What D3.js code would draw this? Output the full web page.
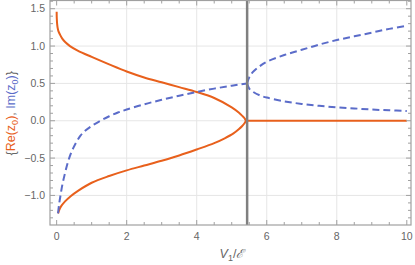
<!DOCTYPE html>
<html lang="en">
<head>
<meta charset="utf-8">
<title>Re and Im of z0</title>
<script src="https://d3js.org/d3.v7.min.js"></script>
<style>
  body { margin: 0; background: #fff; }
  svg text { font-family: "Liberation Sans", Arial, sans-serif; }
</style>
</head>
<body>
<div id="chart"></div>
<script>
// values (V1/E, value)
var reUpper = [[0.0,1.46],[0.004,1.37],[0.015,1.29],[0.03,1.24],[0.05,1.2],[0.1,1.15],[0.16,1.1],
  [0.25,1.05],[0.38,1.0],[0.6,0.94],
  [1.0,0.855],[1.5,0.755],[2.0,0.66],[2.5,0.58],[3.0,0.515],[3.5,0.45],[4.0,0.385],[4.5,0.305],
  [5.0,0.18],[5.2,0.11],[5.3,0.065],[5.37,0.03],[5.40,0]]
var reLower = [[0.04,-1.24],[0.07,-1.2],[0.12,-1.15],[0.24,-1.08],[0.4,-1.01],[0.62,-0.935],[1.0,-0.83],
  [1.5,-0.74],[2.0,-0.665],[2.5,-0.6],[3.0,-0.535],[3.5,-0.465],[4.0,-0.385],[4.5,-0.3],[4.8,-0.235],
  [5.05,-0.17],[5.2,-0.115],[5.3,-0.07],[5.37,-0.03],[5.40,0]]
var reFlat = [[5.44,0],[10,0]]
var imLower = [[0.04,-1.24],[0.07,-1.12],[0.11,-1.0],[0.17,-0.84],[0.24,-0.70],[0.3,-0.59],[0.38,-0.47],
  [0.47,-0.37],[0.57,-0.28],[0.68,-0.2],[0.8,-0.14],[1.0,-0.07],[1.25,0.0],[1.5,0.06],[1.75,0.11],
  [2.0,0.15],[2.5,0.22],[3.0,0.28],[3.5,0.335],[4.0,0.385],[4.5,0.43],[5.0,0.47],[5.44,0.5]]
var imUpperB = [[5.44,0.5],[5.5,0.58],[5.6,0.65],[5.8,0.73],[6.0,0.79],[6.5,0.88],[7.0,0.95],[7.5,1.02],
  [8.0,1.08],[8.5,1.13],[9.0,1.18],[9.5,1.23],[10.0,1.27]]
var imLowerB = [[5.44,0.5],[5.5,0.43],[5.6,0.39],[5.8,0.34],[6.0,0.31],[6.5,0.26],[7.0,0.225],[7.5,0.2],
  [8.0,0.18],[8.5,0.165],[9.0,0.15],[9.5,0.14],[10.0,0.13]]
var vCritical = 5.44
var xTicks = [0, 2, 4, 6, 8, 10]
var yTicks = [-1.0, -0.5, 0.0, 0.5, 1.0, 1.5]

var W = 415, H = 265
var padL = 50, padR = 411, padT = 0.5, padB = 225

var svg = d3.select("#chart").append("svg").attr("width", W).attr("height", H)

var x = d3.scaleLinear().domain([-0.19, 10.12]).range([padL, padR])
var y = d3.scaleLinear().domain([-1.396, 1.61]).range([padB, padT])

// grid
svg.append("g").selectAll("line").data(xTicks.filter(function(d){ return d > 0 && d < 10 }))
  .enter().append("line")
  .attr("x1", function(d){ return x(d) }).attr("x2", function(d){ return x(d) })
  .attr("y1", padT).attr("y2", padB)
  .attr("stroke", "#e6e6e6").attr("stroke-width", 1)
svg.append("g").selectAll("line").data(yTicks)
  .enter().append("line")
  .attr("y1", function(d){ return y(d) }).attr("y2", function(d){ return y(d) })
  .attr("x1", padL).attr("x2", padR)
  .attr("stroke", "#e6e6e6").attr("stroke-width", 1)

var line = d3.line().x(function(d){ return x(d[0]) }).y(function(d){ return y(d[1]) })
  .curve(d3.curveCatmullRom.alpha(0.5))

// orange: upper branch through the tip into the lower branch
var reLoop = reUpper.concat(reLower.slice(0, -1).reverse())
svg.append("path").datum(reLoop).attr("d", line)
  .attr("fill", "none").attr("stroke", "#e8601c").attr("stroke-width", 2)
svg.append("path").datum(reFlat).attr("d", line)
  .attr("fill", "none").attr("stroke", "#e8601c").attr("stroke-width", 2)

// blue dashed
;[imLower, imUpperB, imLowerB].forEach(function(s) {
  svg.append("path").datum(s).attr("d", line)
    .attr("fill", "none").attr("stroke", "#5b6cc9").attr("stroke-width", 2)
    .attr("stroke-dasharray", "7,4")
})

// vertical marker
svg.append("line")
  .attr("x1", x(vCritical)).attr("x2", x(vCritical))
  .attr("y1", padT).attr("y2", padB)
  .attr("stroke", "#808080").attr("stroke-width", 2.5)

// frame
svg.append("rect").attr("x", padL).attr("y", padT)
  .attr("width", padR - padL).attr("height", padB - padT)
  .attr("fill", "none").attr("stroke", "#a0a0a0").attr("stroke-width", 1.2)

// ticks, inward on all four sides
var xMinor = d3.range(0, 10.01, 0.5)
var yMinor = d3.range(-1.3, 1.61, 0.1).map(function(d){ return Math.round(d * 10) / 10 })
function isMajorX(d) { return Math.abs(d - Math.round(d / 2) * 2) < 1e-6 }
function isMajorY(d) { return Math.abs(d * 2 - Math.round(d * 2)) < 1e-6 }
var tk = svg.append("g").attr("stroke", "#a0a0a0").attr("stroke-width", 1)
xMinor.forEach(function(d) {
  var len = isMajorX(d) ? 5 : 3
  tk.append("line").attr("x1", x(d)).attr("x2", x(d)).attr("y1", padB).attr("y2", padB - len)
  tk.append("line").attr("x1", x(d)).attr("x2", x(d)).attr("y1", padT).attr("y2", padT + len)
})
yMinor.forEach(function(d) {
  var len = isMajorY(d) ? 5 : 3
  tk.append("line").attr("y1", y(d)).attr("y2", y(d)).attr("x1", padL).attr("x2", padL + len)
  tk.append("line").attr("y1", y(d)).attr("y2", y(d)).attr("x1", padR).attr("x2", padR - len)
})

// tick labels
svg.append("g").selectAll("text").data(xTicks).enter().append("text")
  .attr("x", function(d){ return x(d) }).attr("y", 239.5)
  .attr("text-anchor", "middle").attr("font-size", "10.5px").attr("fill", "#666")
  .text(function(d){ return d })
svg.append("g").selectAll("text").data(yTicks).enter().append("text")
  .attr("x", 45).attr("y", function(d){ return y(d) + 3.7 })
  .attr("text-anchor", "end").attr("font-size", "10.5px").attr("fill", "#666")
  .text(function(d){ return (d < 0 ? "\u2212" : "") + Math.abs(d).toFixed(1) })

// axis labels
var xl = svg.append("text").attr("x", 232).attr("y", 258)
  .attr("text-anchor", "middle").attr("font-size", "12.5px").attr("fill", "#666")
xl.append("tspan").attr("font-style", "italic").text("V")
xl.append("tspan").attr("font-size", "9px").attr("dy", 3).text("1")
xl.append("tspan").attr("dy", -3).text("/")
xl.append("tspan").attr("font-style", "italic").text("\u2130")

var yl = svg.append("text").attr("transform", "translate(15," + y(0.1) + ") rotate(-90)")
  .attr("text-anchor", "middle").attr("font-size", "12.5px").attr("fill", "#666")
function zsub(parent, color, name) {
  parent.append("tspan").attr("fill", color).text(name + "(z")
  parent.append("tspan").attr("fill", color).attr("font-size", "9px").attr("dy", 3).text("0")
  parent.append("tspan").attr("fill", color).attr("dy", -3).text(")")
}
yl.append("tspan").text("{")
zsub(yl, "#e8601c", "Re")
yl.append("tspan").text(", ")
zsub(yl, "#5b6cc9", "Im")
yl.append("tspan").text("}")
</script>
</body>
</html>
